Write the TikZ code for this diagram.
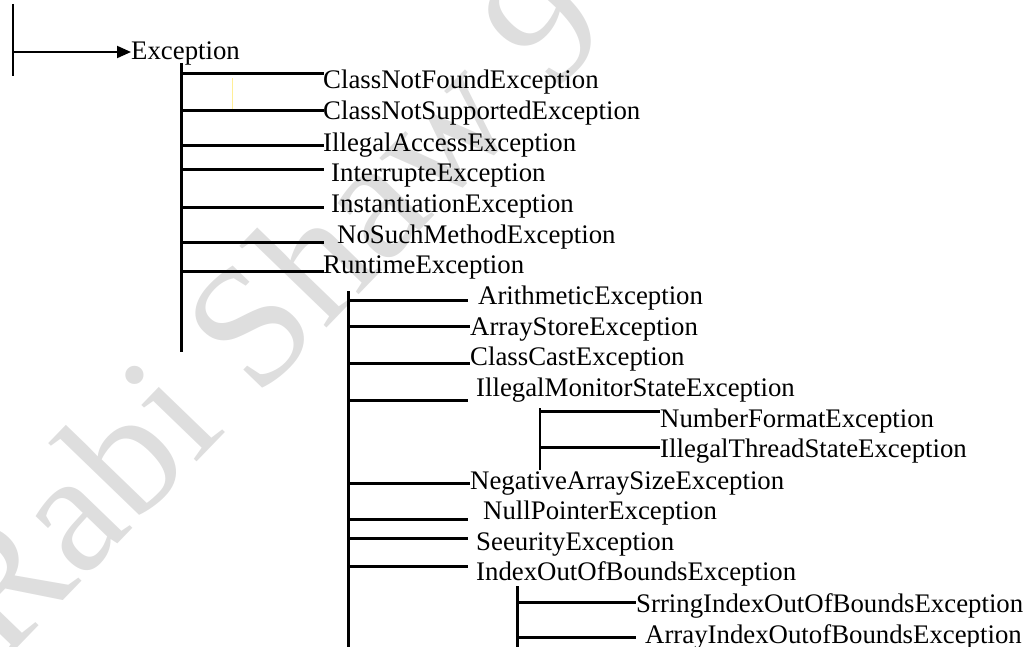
\documentclass[tikz,border=0pt]{standalone}
\usepackage{fontspec}
\setmainfont{Liberation Serif}
\usetikzlibrary{arrows.meta}
\definecolor{wmgray}{RGB}{222,222,222}
\definecolor{faintyellow}{RGB}{255,238,150}
\begin{document}
\begin{tikzpicture}[x=1pt,y=-1pt,
  lbl/.style={anchor=base west,inner sep=0pt,font=\fontsize{26.8}{32}\selectfont},
  branch/.style={line width=3pt},
  trunk/.style={line width=3pt},
  thin trunk/.style={line width=2.2pt}]
\useasboundingbox (0,0) rectangle (1024,647);

% background watermark
\begin{scope}
  \clip (0,0) rectangle (1024,647);
  \node[anchor=base west,inner sep=0pt,rotate=46,text=wmgray,
        font=\fontsize{172}{172}\selectfont] (wm) at (2,664) {Rabi Shaw 9};
\end{scope}

% root marker and arrow into Exception
\coordinate (lbtop) at (13,4);
\coordinate (lbbot) at (13,76);
\coordinate (lbmid) at (13,52);
\draw[thin trunk] (lbtop) -- (lbbot);
\node[lbl] (exc) at (131,60) {Exception};
\draw[line width=2pt,-{Triangle[length=14pt,width=12pt]}] (lbmid) -- (lbmid -| exc.west);

% trunks
\coordinate (t1a) at (181,63);  \coordinate (t1b) at (181,352);
\coordinate (t2a) at (348,291); \coordinate (t2b) at (348,650);
\coordinate (t3a) at (540,408); \coordinate (t3b) at (540,470);
\coordinate (t4a) at (517,586); \coordinate (t4b) at (517,650);
\draw[trunk] (t1a) -- (t1b);
\draw[trunk] (t2a) -- (t2b);
\draw[thin trunk] (t3a) -- (t3b);
\draw[trunk] (t4a) -- (t4b);

% stray mark between the first two branches
\coordinate (ym1) at (232,78); \coordinate (ym2) at (232,110);
\draw[faintyellow,line width=1pt] (ym1) -- (ym2);

% name / text / text x / baseline / branch y / branch end / trunk
\foreach \n/\t/\tx/\by/\ly/\le/\tr in {
  cnf/ClassNotFoundException/323/89/74/324/t1a,
  cns/ClassNotSupportedException/323/120/111/324/t1a,
  iae/IllegalAccessException/323/152/146/324/t1a,
  int/InterrupteException/331/182/170/324/t1a,
  ins/InstantiationException/331/212/207/324/t1a,
  nsm/NoSuchMethodException/337/243/242/324/t1a,
  rte/RuntimeException/323/273/271/324/t1a,
  ari/ArithmeticException/478/304/300/468/t2a,
  ase/ArrayStoreException/470/335/326/470/t2a,
  cce/ClassCastException/470/365/363/470/t2a,
  ims/IllegalMonitorStateException/476/396/400/468/t2a,
  nfe/NumberFormatException/660/427/411/660/t3a,
  its/IllegalThreadStateException/660/457/447/660/t3a,
  nas/NegativeArraySizeException/470/489/483/470/t2a,
  npe/NullPointerException/483/519/519/468/t2a,
  sec/SeeurityException/476/550/538/468/t2a,
  ioo/IndexOutOfBoundsException/476/580/566/468/t2a,
  sio/SrringIndexOutOfBoundsException/636/612/602/636/t4a,
  aio/ArrayIndexOutofBoundsException/645/643/637/636/t4a}{
  \node[lbl] (\n) at (\tx,\by) {\t};
  \coordinate (\n-end) at (\le,\ly);
  \draw[branch] (\tr |- \n-end) -- (\n-end);
}
\end{tikzpicture}
\end{document}
